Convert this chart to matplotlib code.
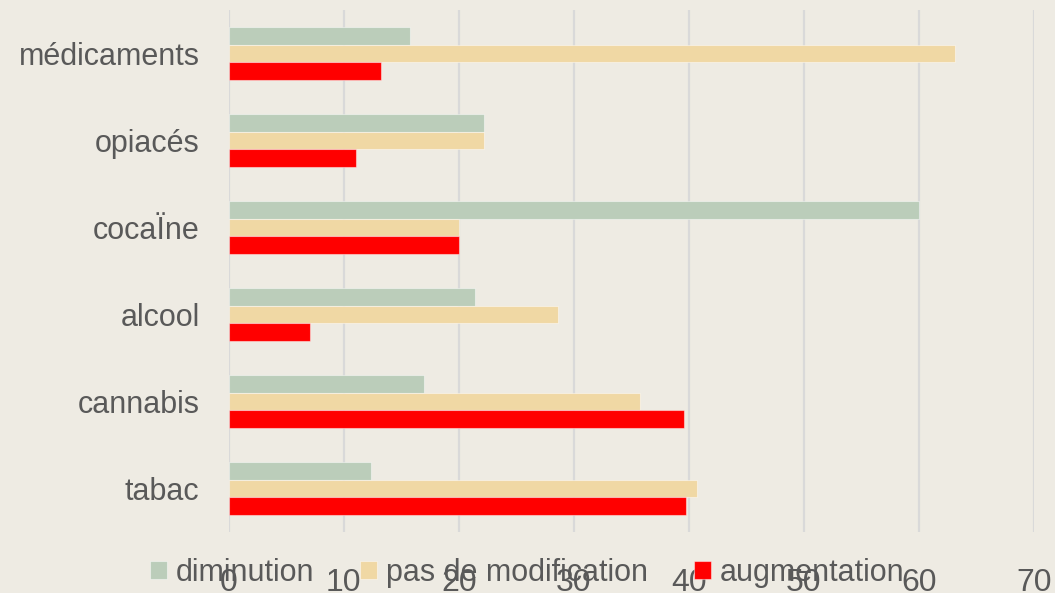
import numpy as np
import matplotlib
matplotlib.use("Agg")
import matplotlib.pyplot as plt

# ── données ──────────────────────────────────────────────
categories   = ["tabac", "cannabis", "alcool", "cocaÏne", "opiacés", "médicaments"]
diminution   = [12.4, 17.0, 21.4, 60.0, 22.2, 15.8]
pas_modif    = [40.7, 35.8, 28.6, 20.0, 22.2, 63.2]
augmentation = [39.8, 39.6, 7.1, 20.0, 11.1, 13.2]
x_ticks      = [0, 10, 20, 30, 40, 50, 60, 70]

BG   = "#EEEBE3"
GRID = "#D9D9D9"
TXT  = "#595959"

plt.rcParams["font.family"] = ["Liberation Sans", "DejaVu Sans"]

fig = plt.figure(figsize=(10.55, 5.93), dpi=100, facecolor=BG)
ax = fig.add_axes([0.2168, 0.1029, 0.9798 - 0.2168, 0.983 - 0.1029])
ax.set_facecolor(BG)

y = np.arange(len(categories))
h = 0.203
edge = (1, 1, 1, 0.45)
ax.barh(y + h, diminution,   height=h, color="#BBCDBA", edgecolor=edge, linewidth=0.8, label="diminution", zorder=3)
ax.barh(y,     pas_modif,    height=h, color="#F0D8A4", edgecolor=edge, linewidth=0.8, label="pas de modification", zorder=3)
ax.barh(y - h, augmentation, height=h, color="#FF0000", edgecolor=edge, linewidth=0.8, label="augmentation", zorder=3)

ax.set_xlim(0, 70)
ax.set_ylim(-0.5, len(categories) - 0.5)
ax.set_xticks(x_ticks)
ax.set_xticklabels([str(t) for t in x_ticks], fontsize=23, color=TXT)
ax.set_yticks(y)
ax.set_yticklabels(categories, fontsize=22, color=TXT)
ax.tick_params(axis="x", length=0, pad=26)
ax.tick_params(axis="y", length=0, pad=21)

ax.grid(axis="x", color=GRID, linewidth=1.6, zorder=0)
for s in ax.spines.values():
    s.set_visible(False)

fig.legend(loc="center", bbox_to_anchor=(0.5, 1 - 573 / 593), ncol=3, frameon=False,
           fontsize=22, labelcolor=TXT, handlelength=0.55, handleheight=0.55,
           handletextpad=0.3, columnspacing=1.5, borderpad=0)

fig.savefig("out.png", dpi=100, facecolor=BG)
